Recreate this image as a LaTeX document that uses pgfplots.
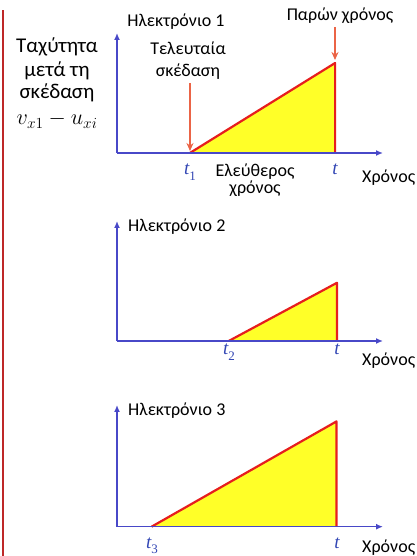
\documentclass[border=0pt]{standalone}
\usepackage{graphicx}
\usepackage{fontspec}
\setmainfont{Carlito}
\newfontfamily\tfont{Liberation Serif}
\usepackage{pgfplots}
\pgfplotsset{compat=1.18}
\usetikzlibrary{arrows.meta}
\definecolor{axisblue}{RGB}{72,72,200}
\definecolor{trired}{RGB}{230,30,30}
\definecolor{triyellow}{RGB}{255,255,40}
\definecolor{annot}{RGB}{235,100,70}
\definecolor{tblue}{RGB}{50,70,180}
\definecolor{border}{RGB}{190,40,40}
\newcommand{\tl}[1]{{\color{tblue}\tfont\itshape\fontsize{19}{19}\selectfont t\raisebox{-6pt}{\upshape\fontsize{13}{13}\selectfont #1}}}
\pgfplotsset{elec/.style={scale only axis, width=266pt, height=120pt,
  xmin=0, xmax=10, ymin=0, ymax=10, enlargelimits=false,
  axis lines=left, xtick=\empty, ytick=\empty,
  axis line style={draw=axisblue, line width=1.4pt, -{Latex[length=7pt,width=6pt]}},
  clip=false, axis on top, anchor=south west}}
\begin{document}
\begin{tikzpicture}
\useasboundingbox (0,0) rectangle (416pt,556pt);
% left border line
\draw[border, line width=1.3pt] (3pt,0pt) -- (3pt,546pt);
% Panel 1
\begin{axis}[elec, at={(117pt,403pt)}]
\addplot[fill=triyellow, draw=none] coordinates {(2.74,0) (8.2,7.5) (8.2,0)} -- cycle;
\addplot[trired, line width=2.2pt, line join=round] coordinates {(2.74,0) (8.2,7.5) (8.2,0)};
\end{axis}
% Panel 2
\begin{axis}[elec, at={(117pt,215pt)}]
\addplot[fill=triyellow, draw=none] coordinates {(4.2,0) (8.27,4.85) (8.27,0)} -- cycle;
\addplot[trired, line width=2.2pt, line join=round] coordinates {(4.2,0) (8.27,4.85) (8.27,0)};
\end{axis}
% Panel 3
\begin{axis}[elec, at={(117pt,29.3pt)}, height=121.7pt]
\addplot[fill=triyellow, draw=none] coordinates {(1.3,0) (8.25,8.65) (8.25,0)} -- cycle;
\addplot[trired, line width=2.2pt, line join=round] coordinates {(1.3,0) (8.25,8.65) (8.25,0)};
\end{axis}
% annotation arrows
\draw[annot, line width=1.4pt, -{Stealth[length=8pt,width=7pt]}] (335pt,529pt) -- (335pt,496pt);
\draw[annot, line width=1.4pt, -{Stealth[length=8pt,width=7pt]}] (190pt,473pt) -- (190pt,405pt);
% texts
\begin{scope}[every node/.style={inner sep=0pt, font=\fontsize{18}{18}\selectfont}]
\node[anchor=base] at (176pt,529pt) {Ηλεκτρόνιο 1};
\node[anchor=base] at (340pt,535pt) {Παρών χρόνος};
\node[anchor=base] at (188pt,501pt) {Τελευταία};
\node[anchor=base] at (188pt,479pt) {σκέδαση};
\node[anchor=base] at (255pt,379pt) {Ελεύθερος};
\node[anchor=base] at (255pt,362pt) {χρόνος};
\node[anchor=base west] at (362pt,373pt) {Χρόνος};
\node[anchor=base west] at (128pt,324pt) {Ηλεκτρόνιο 2};
\node[anchor=base west] at (362pt,190pt) {Χρόνος};
\node[anchor=base west] at (128pt,140pt) {Ηλεκτρόνιο 3};
\node[anchor=base west] at (362pt,4pt) {Χρόνος};
\node[anchor=base] at (190pt,381pt) {\tl{1}};
\node[anchor=base] at (335pt,381pt) {\tl{}};
\node[anchor=base] at (229pt,201pt) {\tl{2}};
\node[anchor=base] at (337pt,201pt) {\tl{}};
\node[anchor=base] at (152pt,8pt) {\tl{3}};
\node[anchor=base] at (337pt,8pt) {\tl{}};
\end{scope}
\begin{scope}[every node/.style={inner sep=0pt, font=\fontsize{21}{21}\selectfont}]
\node[anchor=base] at (57pt,503pt) {Ταχύτητα};
\node[anchor=base] at (57pt,479pt) {μετά τη};
\node[anchor=base] at (57pt,457pt) {σκέδαση};
\node[anchor=base] at (57pt,431pt) {\scalebox{1.07}{$v_{x1}-u_{xi}$}};
\end{scope}
\end{tikzpicture}
\end{document}
